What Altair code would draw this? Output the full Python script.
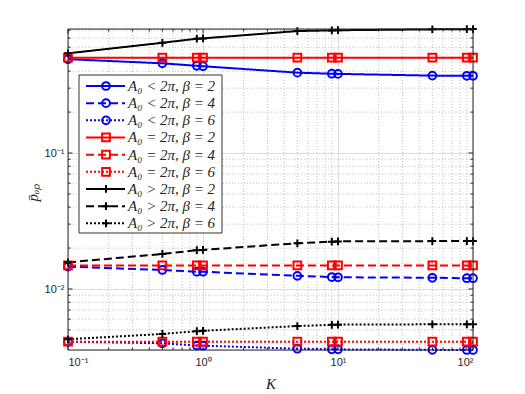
import altair as alt
import pandas as pd

# ---------------- data ----------------
K = [0.1, 0.5, 0.9, 1, 5, 9, 10, 50, 90, 100]

less_b2 = [0.490, 0.457, 0.438, 0.435, 0.390, 0.383, 0.382, 0.371, 0.370, 0.370]
less_b4 = [0.0146, 0.0138, 0.0134, 0.0134, 0.0125, 0.01225, 0.0122, 0.0121, 0.0120, 0.0120]
less_b6 = [0.0041, 0.00399, 0.00384, 0.00383, 0.00364, 0.0036, 0.0036, 0.00357, 0.00356, 0.00356]
eq_b2 = [0.503, 0.503, 0.503, 0.503, 0.503, 0.503, 0.503, 0.503, 0.503, 0.503]
eq_b4 = [0.0149, 0.0149, 0.0149, 0.0149, 0.0149, 0.0149, 0.0149, 0.0149, 0.0149, 0.0149]
eq_b6 = [0.0041, 0.0041, 0.0041, 0.0041, 0.0041, 0.0041, 0.0041, 0.0041, 0.0041, 0.0041]
gt_b2 = [0.541, 0.647, 0.693, 0.697, 0.789, 0.798, 0.800, 0.812, 0.815, 0.817]
gt_b4 = [0.0157, 0.0181, 0.0193, 0.0194, 0.0217, 0.0223, 0.0224, 0.0225, 0.0225, 0.0225]
gt_b6 = [0.00427, 0.00467, 0.00490, 0.00493, 0.00534, 0.00545, 0.00547, 0.0055, 0.0055, 0.0055]

labels = [
    "A₀ < 2π, β = 2", "A₀ < 2π, β = 4", "A₀ < 2π, β = 6",
    "A₀ = 2π, β = 2", "A₀ = 2π, β = 4", "A₀ = 2π, β = 6",
    "A₀ > 2π, β = 2", "A₀ > 2π, β = 4", "A₀ > 2π, β = 6",
]
series_values = [less_b2, less_b4, less_b6, eq_b2, eq_b4, eq_b6, gt_b2, gt_b4, gt_b6]
colors = ["#0000FF"] * 3 + ["#FF0000"] * 3 + ["#000000"] * 3
dashes = [[1, 0], [8, 4], [2, 2]] * 3
PLUS = "M-1,0L1,0M0,-1L0,1"
shapes = ["circle"] * 3 + ["square"] * 3 + [PLUS] * 3
sizes = [60] * 3 + [42] * 3 + [130] * 3

x_major = [0.1, 1, 10, 100]
x_minor = [0.2, 0.3, 0.4, 0.5, 0.6, 0.7, 0.8, 0.9,
           2, 3, 4, 5, 6, 7, 8, 9,
           20, 30, 40, 50, 60, 70, 80, 90]
y_major = [0.01, 0.1]
y_minor = [0.004, 0.005, 0.006, 0.007, 0.008, 0.009,
           0.02, 0.03, 0.04, 0.05, 0.06, 0.07, 0.08, 0.09,
           0.2, 0.3, 0.4, 0.5, 0.6, 0.7, 0.8]

# --------------- tables ---------------
rows = []
for lab, vals in zip(labels, series_values):
    for k, v in zip(K, vals):
        rows.append({"series": lab, "K": k, "p": v})
df = pd.DataFrame(rows)
ymin, ymax = df["p"].min(), df["p"].max()

leg = pd.DataFrame({"series": labels, "row": list(range(len(labels)))})

W, H = 405, 321
FONT = "Liberation Sans"
SERIF = "Liberation Serif"
AX = "#262626"

color_s = alt.Scale(domain=labels, range=colors)
dash_s = alt.Scale(domain=labels, range=dashes)
shape_s = alt.Scale(domain=labels, range=shapes)
size_s = alt.Scale(domain=labels, range=sizes)

xs = alt.Scale(type="log", domain=[0.1, 100], nice=False)
ys = alt.Scale(type="log", domain=[ymin, ymax], nice=False)

x_axis = alt.Axis(
    values=x_major, grid=True, gridColor="#dedede", gridWidth=1,
    ticks=False, domain=False, labelFont=FONT, labelFontSize=11,
    labelColor=AX, labelPadding=6,
    labelExpr="datum.value < 0.5 ? '10⁻¹' : datum.value < 5 ? '10⁰' : datum.value < 50 ? '10¹' : '10²'",
    title="K", titleFont=SERIF, titleFontStyle="italic", titleFontWeight="normal",
    titleFontSize=15, titleColor=AX, titleX=W / 2, titleY=33,
    titleBaseline="middle",
)
y_axis = alt.Axis(
    values=y_major, grid=True, gridColor="#dedede", gridWidth=1,
    ticks=False, domain=False, labelFont=FONT, labelFontSize=11,
    labelColor=AX, labelPadding=4,
    labelExpr="datum.value < 0.05 ? '10⁻²' : '10⁻¹'",
    title="p̄ₒₚ", titleFont=SERIF, titleFontStyle="italic", titleFontWeight="normal",
    titleFontSize=15, titleColor=AX, titleX=-36, titleY=163,
    titleBaseline="middle", titleAngle=-90,
)

x_enc = alt.X("K:Q", scale=xs, axis=x_axis)
y_enc = alt.Y("p:Q", scale=ys, axis=y_axis)

xgrid = alt.Chart(pd.DataFrame({"K": x_minor})).mark_rule(
    color="#a8a8a8", strokeWidth=0.7, strokeDash=[1, 2]
).encode(x=x_enc)
ygrid = alt.Chart(pd.DataFrame({"p": y_minor})).mark_rule(
    color="#a8a8a8", strokeWidth=0.7, strokeDash=[1, 2]
).encode(y=y_enc)

# inside tick marks (MATLAB style) on all four sides
xt_min = pd.DataFrame({"K": x_minor})
xt_maj = pd.DataFrame({"K": x_major})
yt_min = pd.DataFrame({"p": y_minor})
yt_maj = pd.DataFrame({"p": y_major})


def xticks(d, length):
    b = alt.Chart(d).mark_rule(color=AX, strokeWidth=1).encode(
        x=x_enc, y=alt.value(H), y2=alt.value(H - length))
    t = alt.Chart(d).mark_rule(color=AX, strokeWidth=1).encode(
        x=x_enc, y=alt.value(0), y2=alt.value(length))
    return [b, t]


def yticks(d, length):
    l = alt.Chart(d).mark_rule(color=AX, strokeWidth=1).encode(
        y=y_enc, x=alt.value(0), x2=alt.value(length))
    r = alt.Chart(d).mark_rule(color=AX, strokeWidth=1).encode(
        y=y_enc, x=alt.value(W), x2=alt.value(W - length))
    return [l, r]


tick_layers = xticks(xt_min, 2.5) + xticks(xt_maj, 4.5) + yticks(yt_min, 2.5) + yticks(yt_maj, 4.5)

base = alt.Chart(df)
lines = base.mark_line(strokeWidth=2, clip=False).encode(
    x=x_enc, y=y_enc,
    color=alt.Color("series:N", scale=color_s, legend=None),
    strokeDash=alt.StrokeDash("series:N", scale=dash_s, legend=None),
    detail="series:N",
)
points = base.mark_point(filled=False, strokeWidth=2, opacity=1, clip=False).encode(
    x=x_enc, y=y_enc,
    color=alt.Color("series:N", scale=color_s, legend=None),
    shape=alt.Shape("series:N", scale=shape_s, legend=None),
    size=alt.Size("series:N", scale=size_s, legend=None),
)

main = alt.layer(xgrid, ygrid, *tick_layers, lines, points)

# --------------- legend + frame ---------------
one = pd.DataFrame({"a": [0]})
frame = alt.Chart(one).mark_rect(
    fill=None, fillOpacity=0, stroke=AX, strokeWidth=1
).encode(x=alt.value(0), x2=alt.value(W), y=alt.value(0), y2=alt.value(H))

ly = alt.Y("row:Q", scale=alt.Scale(domain=[0, 8], range=[57, 194.3]), axis=None)
lbox = alt.Chart(one).mark_rect(
    fill="white", stroke="#333333", strokeWidth=1
).encode(x=alt.value(11), x2=alt.value(154), y=alt.value(46), y2=alt.value(204))
lrules = alt.Chart(leg).mark_rule(strokeWidth=2).encode(
    x=alt.value(18), x2=alt.value(57), y=ly,
    color=alt.Color("series:N", scale=color_s, legend=None),
    strokeDash=alt.StrokeDash("series:N", scale=dash_s, legend=None),
)
lpoints = alt.Chart(leg).mark_point(filled=False, strokeWidth=2, opacity=1).encode(
    x=alt.value(38), y=ly,
    color=alt.Color("series:N", scale=color_s, legend=None),
    shape=alt.Shape("series:N", scale=shape_s, legend=None),
    size=alt.Size("series:N", scale=size_s, legend=None),
)
ltext = alt.Chart(leg).mark_text(
    align="left", baseline="middle", font=SERIF, fontStyle="italic",
    fontSize=15, color=AX
).encode(x=alt.value(60), y=ly, text="series:N")

legend = alt.layer(frame, lbox, lrules, lpoints, ltext)

chart = alt.layer(main, legend).resolve_scale(y="independent").properties(
    width=W, height=H,
    autosize=alt.AutoSizeParams(type="none"),
    padding={"left": 60, "top": 21, "right": 44, "bottom": 40},
).configure_view(stroke=None).configure(background="white")

chart.save("out.html", embed_options={"renderer": "svg", "actions": False})
